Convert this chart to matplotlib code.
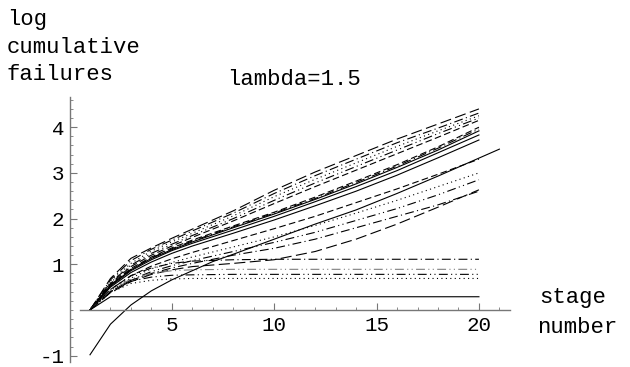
import matplotlib.pyplot as plt
from matplotlib.ticker import MultipleLocator, FixedLocator

plt.rcParams['axes.unicode_minus'] = False

# estagios em que cada curva foi lida
estagios = [1, 2, 3, 4, 5, 6, 8, 10, 12, 14, 16, 18, 20]

# grupo de cima (terminam entre 3.7 e 4.4)
a1 = [0, .69, 1.13, 1.36, 1.57, 1.77, 2.17, 2.62, 3.02, 3.38, 3.74, 4.07, 4.40]
a2 = [0, .66, 1.08, 1.33, 1.53, 1.73, 2.12, 2.55, 2.94, 3.30, 3.66, 3.98, 4.31]
a3 = [0, .63, 1.02, 1.29, 1.49, 1.68, 2.06, 2.48, 2.86, 3.22, 3.58, 3.92, 4.25]
a4 = [0, .60, 0.98, 1.24, 1.44, 1.63, 2.00, 2.40, 2.78, 3.14, 3.50, 3.86, 4.20]
a5 = [0, .58, 0.95, 1.20, 1.40, 1.59, 1.95, 2.33, 2.70, 3.06, 3.42, 3.78, 4.15]
b1 = [0, .56, 0.91, 1.16, 1.36, 1.53, 1.84, 2.14, 2.47, 2.82, 3.18, 3.57, 4.00]
b2 = [0, .55, 0.89, 1.14, 1.34, 1.51, 1.82, 2.12, 2.44, 2.79, 3.15, 3.54, 3.96]
b3 = [0, .54, 0.88, 1.13, 1.32, 1.49, 1.80, 2.10, 2.42, 2.76, 3.12, 3.50, 3.92]
s1 = [0, .52, 0.86, 1.10, 1.30, 1.46, 1.75, 2.05, 2.37, 2.70, 3.05, 3.44, 3.83]
s2 = [0, .50, 0.82, 1.05, 1.24, 1.40, 1.68, 1.97, 2.28, 2.60, 2.95, 3.33, 3.72]

# grupo do meio
m1 = [0, .45, 0.75, 0.96, 1.12, 1.26, 1.52, 1.78, 2.05, 2.35, 2.65, 2.97, 3.30]
m2 = [0, .42, 0.70, 0.90, 1.04, 1.16, 1.38, 1.60, 1.85, 2.12, 2.40, 2.70, 3.00]
m3 = [0, .40, 0.66, 0.84, 0.97, 1.08, 1.28, 1.48, 1.70, 1.96, 2.22, 2.52, 2.85]
m4 = [0, .38, 0.62, 0.78, 0.88, 0.95, 1.02, 1.10, 1.28, 1.55, 1.88, 2.25, 2.63]
m5 = [0, .40, 0.65, 0.80, 0.92, 1.02, 1.20, 1.35, 1.55, 1.80, 2.05, 2.30, 2.60]

# curvas que ficam planas
f1 = [0, .45, 0.75, 0.92, 1.02, 1.07, 1.10, 1.11, 1.11, 1.11, 1.11, 1.11, 1.11]
f2 = [0, .42, 0.68, 0.80, 0.86, 0.88, 0.89, 0.89, 0.89, 0.89, 0.89, 0.89, 0.89]
f3 = [0, .40, 0.63, 0.72, 0.76, 0.77, 0.78, 0.78, 0.78, 0.78, 0.78, 0.78, 0.78]
f4 = [0, .38, 0.58, 0.65, 0.68, 0.69, 0.69, 0.69, 0.69, 0.69, 0.69, 0.69, 0.69]
f5 = [0, .29, 0.29, 0.29, 0.29, 0.29, 0.29, 0.29, 0.29, 0.29, 0.29, 0.29, 0.29]

# curva do modelo (vai ate o estagio 21)
x_modelo = [1, 2, 3, 4, 5, 6, 7, 8, 10, 12, 14, 16, 18, 21]
y_modelo = [-0.98, -0.31, 0.11, 0.42, 0.66, 0.86, 1.06, 1.22, 1.55, 1.88, 2.19, 2.55, 2.93, 3.52]

tracos = {
    'solido': '-',
    'tracejado': (0, (6, 3)),
    'longo': (0, (10, 4)),
    'pontilhado': (0, (1, 3)),
    'traco_ponto': (0, (8, 3, 1, 3)),
    'traco_2pontos': (0, (8, 3, 1, 3, 1, 3)),
}

curvas = [
    (a1, 'longo', 'black'), (a2, 'traco_ponto', 'black'), (a3, 'pontilhado', 'black'),
    (a4, 'traco_2pontos', 'black'), (a5, 'tracejado', 'black'),
    (b1, 'tracejado', 'black'), (b2, 'traco_ponto', 'black'), (b3, 'solido', 'black'),
    (s1, 'solido', 'black'), (s2, 'solido', 'black'),
    (m1, 'tracejado', 'black'), (m2, 'pontilhado', 'black'), (m3, 'traco_2pontos', 'black'),
    (m4, 'longo', 'black'), (m5, 'traco_ponto', 'black'),
    (f1, 'traco_ponto', 'black'), (f2, 'traco_2pontos', 'gray'), (f3, 'traco_2pontos', 'black'),
    (f4, 'pontilhado', 'black'), (f5, 'solido', 'black'),
]

fonte = 'Liberation Mono'
W, H = 630, 367
fig = plt.figure(figsize=(W / 100, H / 100), dpi=100)
ax = fig.add_axes([70 / W, (H - 362) / H, 440 / W, 265 / H])

for y, estilo, cor in curvas:
    ax.plot(estagios, y, color=cor, linestyle=tracos[estilo], linewidth=0.8)
ax.plot(x_modelo, y_modelo, color='black', linewidth=0.8)

ax.set_xlim(1 - 20 / 20.47, 1 + 420 / 20.47)
ax.set_ylim((310 - 362) / 45.7, (310 - 97) / 45.7)

for lado in ['top', 'right']:
    ax.spines[lado].set_visible(False)
ax.spines['left'].set_position(('data', 0.02))
ax.spines['bottom'].set_position(('data', 0))
ax.spines['bottom'].set_bounds(0.5, 21.5)
for lado in ['left', 'bottom']:
    ax.spines[lado].set_color('#777777')
    ax.spines[lado].set_linewidth(1.0)

ax.xaxis.set_major_locator(FixedLocator([5, 10, 15, 20]))
ax.xaxis.set_minor_locator(FixedLocator([1, 2, 3, 4, 6, 7, 8, 9, 11, 12, 13, 14, 16, 17, 18, 19, 21]))
ax.yaxis.set_major_locator(FixedLocator([-1, 1, 2, 3, 4]))
ax.yaxis.set_minor_locator(MultipleLocator(0.2))
ax.tick_params(which='major', direction='in', length=5, width=0.8, color='#777777',
               labelsize=15, pad=4)
ax.tick_params(which='minor', direction='in', length=2.5, width=0.6, color='#777777')
for t in ax.get_xticklabels() + ax.get_yticklabels():
    t.set_fontfamily(fonte)

fig.text(7 / W, 1 - 25 / H, 'log', family=fonte, fontsize=16, ha='left', va='baseline')
fig.text(7 / W, 1 - 53 / H, 'cumulative', family=fonte, fontsize=16, ha='left', va='baseline')
fig.text(7 / W, 1 - 80 / H, 'failures', family=fonte, fontsize=16, ha='left', va='baseline')
fig.text(227 / W, 1 - 85 / H, 'lambda=1.5', family=fonte, fontsize=16, ha='left', va='baseline')
fig.text(539 / W, 1 - 303 / H, 'stage', family=fonte, fontsize=16, ha='left', va='baseline')
fig.text(537 / W, 1 - 333 / H, 'number', family=fonte, fontsize=16, ha='left', va='baseline')

fig.savefig('out.png', dpi=100)
